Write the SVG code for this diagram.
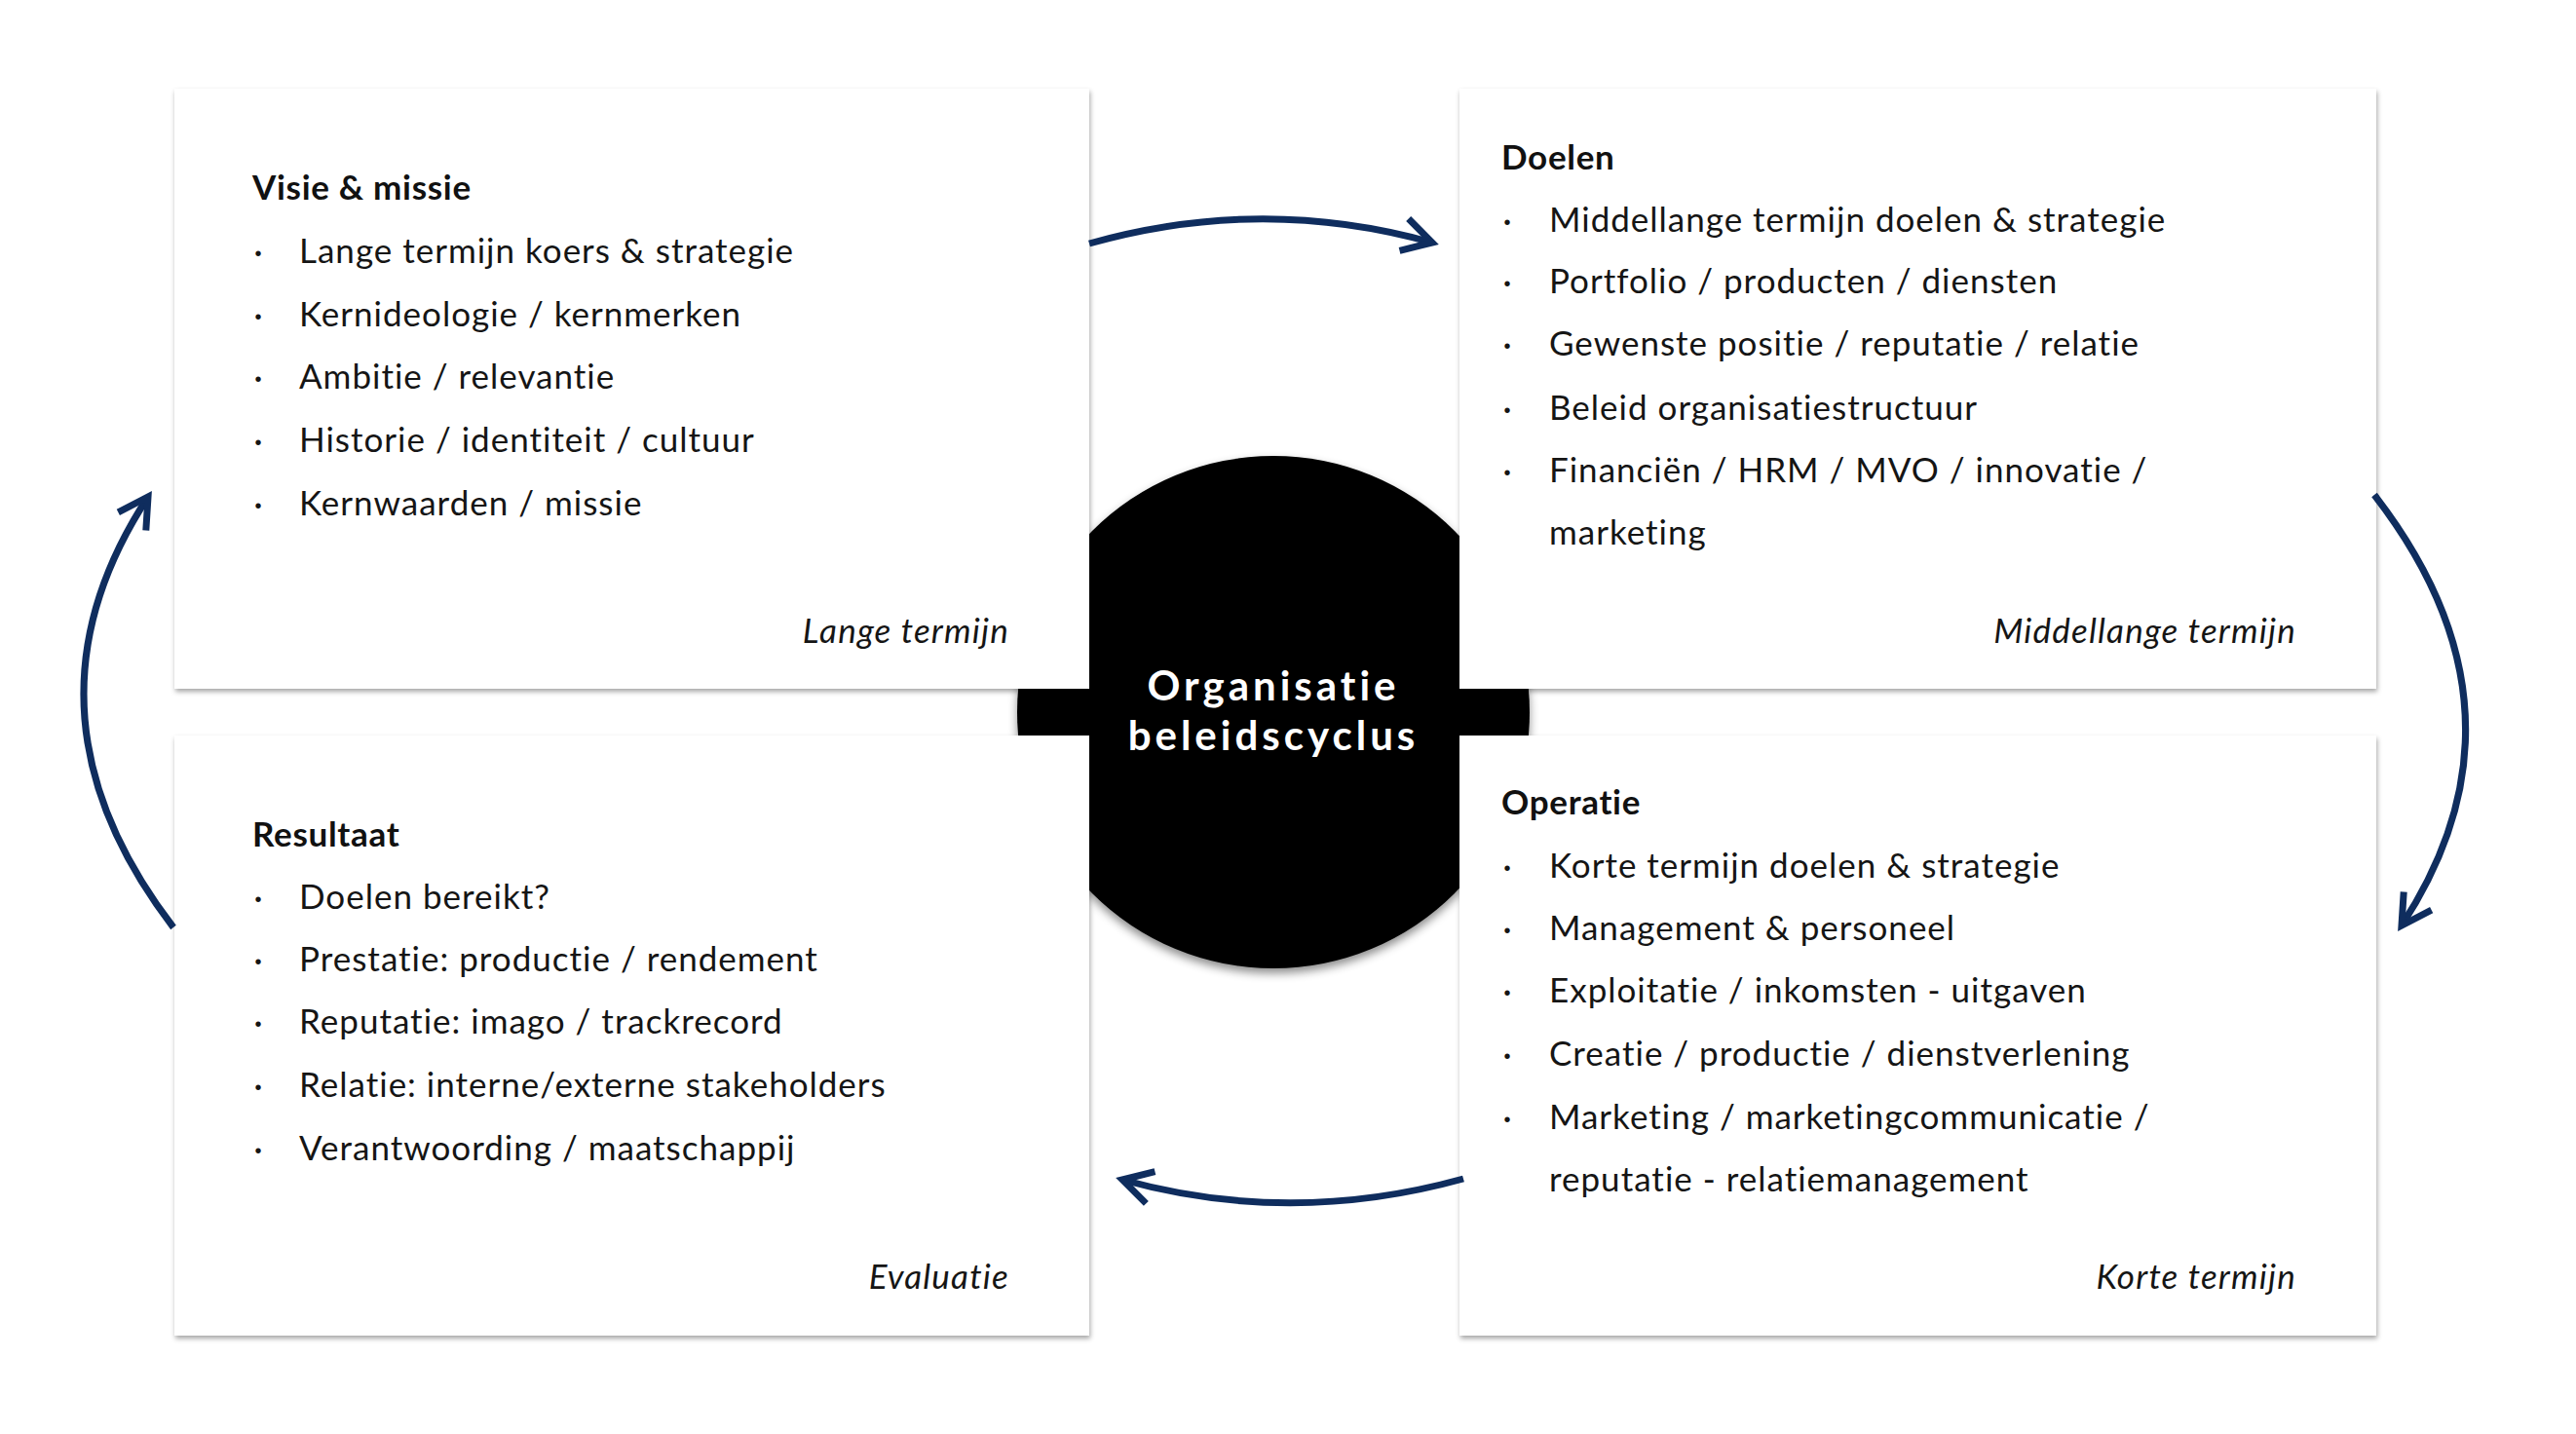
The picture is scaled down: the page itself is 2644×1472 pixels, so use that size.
<svg xmlns="http://www.w3.org/2000/svg" width="2644" height="1472" viewBox="0 0 2644 1472">
<defs>
<style>
.box{fill:#ffffff;filter:url(#boxShadow);}
.h{font-family:Lato,"Open Sans","Liberation Sans",sans-serif;font-weight:700;font-size:35px;fill:#111111;letter-spacing:0.7px;}
.t{font-family:Lato,"Open Sans","Liberation Sans",sans-serif;font-weight:400;font-size:35px;fill:#151515;letter-spacing:1px;}
.b{font-family:"Liberation Sans",sans-serif;font-size:20px;fill:#151515;text-anchor:middle;}
.i{font-family:Lato,"Open Sans","Liberation Sans",sans-serif;font-weight:400;font-style:italic;font-size:35px;fill:#151515;text-anchor:end;letter-spacing:1.2px;}
.c{font-family:Lato,"Open Sans","Liberation Sans",sans-serif;font-weight:700;font-size:42px;fill:#ffffff;text-anchor:middle;letter-spacing:4px;}
.arr{fill:none;stroke:#0f2d5e;stroke-width:7;marker-end:url(#chev);}
</style>
<filter id="boxShadow" x="-5%" y="-5%" width="110%" height="112%">
<feDropShadow dx="1" dy="3" stdDeviation="2.5" flood-color="#000000" flood-opacity="0.35"/>
</filter>
<filter id="circShadow" x="-10%" y="-10%" width="120%" height="125%">
<feDropShadow dx="0" dy="5" stdDeviation="5" flood-color="#000000" flood-opacity="0.45"/>
</filter>
<marker id="chev" markerUnits="userSpaceOnUse" markerWidth="60" markerHeight="60" refX="0" refY="0" orient="auto" overflow="visible" viewBox="-40 -30 60 60">
<path d="M-30,-17 L0,0 L-30,17" fill="none" stroke="#0f2d5e" stroke-width="7" stroke-linejoin="miter"/>
</marker>
</defs>
<rect width="2644" height="1472" fill="#ffffff"/>

<g id="center">
<circle cx="1307" cy="731" r="263" fill="#000000" filter="url(#circShadow)"/>
</g>

<g id="node-visie">
<rect class="box" x="179" y="91" width="939" height="616"/>
<text class="h" x="259" y="205">Visie &amp; missie</text>
<text class="b" x="265" y="267">•</text><text class="t" x="307" y="270">Lange termijn koers &amp; strategie</text>
<text class="b" x="265" y="332">•</text><text class="t" x="307" y="335">Kernideologie / kernmerken</text>
<text class="b" x="265" y="396">•</text><text class="t" x="307" y="399">Ambitie / relevantie</text>
<text class="b" x="265" y="461">•</text><text class="t" x="307" y="464">Historie / identiteit / cultuur</text>
<text class="b" x="265" y="526">•</text><text class="t" x="307" y="529">Kernwaarden / missie</text>
<text class="i" x="1036" y="660">Lange termijn</text>
</g>

<g id="node-doelen">
<rect class="box" x="1498" y="91" width="941" height="616"/>
<text class="h" x="1541" y="174">Doelen</text>
<text class="b" x="1547" y="235">•</text><text class="t" x="1590" y="238">Middellange termijn doelen &amp; strategie</text>
<text class="b" x="1547" y="298">•</text><text class="t" x="1590" y="301">Portfolio / producten / diensten</text>
<text class="b" x="1547" y="362">•</text><text class="t" x="1590" y="365">Gewenste positie / reputatie / relatie</text>
<text class="b" x="1547" y="428">•</text><text class="t" x="1590" y="431">Beleid organisatiestructuur</text>
<text class="b" x="1547" y="492">•</text><text class="t" x="1590" y="495">Financiën / HRM / MVO / innovatie /</text>
<text class="t" x="1590" y="559">marketing</text>
<text class="i" x="2357" y="660">Middellange termijn</text>
</g>

<g id="node-resultaat">
<rect class="box" x="179" y="755" width="939" height="616"/>
<text class="h" x="259" y="869">Resultaat</text>
<text class="b" x="265" y="930">•</text><text class="t" x="307" y="933">Doelen bereikt?</text>
<text class="b" x="265" y="994">•</text><text class="t" x="307" y="997">Prestatie: productie / rendement</text>
<text class="b" x="265" y="1058">•</text><text class="t" x="307" y="1061">Reputatie: imago / trackrecord</text>
<text class="b" x="265" y="1123">•</text><text class="t" x="307" y="1126">Relatie: interne/externe stakeholders</text>
<text class="b" x="265" y="1188">•</text><text class="t" x="307" y="1191">Verantwoording / maatschappij</text>
<text class="i" x="1036" y="1323">Evaluatie</text>
</g>

<g id="node-operatie">
<rect class="box" x="1498" y="755" width="941" height="616"/>
<text class="h" x="1541" y="836">Operatie</text>
<text class="b" x="1547" y="898">•</text><text class="t" x="1590" y="901">Korte termijn doelen &amp; strategie</text>
<text class="b" x="1547" y="962">•</text><text class="t" x="1590" y="965">Management &amp; personeel</text>
<text class="b" x="1547" y="1026">•</text><text class="t" x="1590" y="1029">Exploitatie / inkomsten - uitgaven</text>
<text class="b" x="1547" y="1091">•</text><text class="t" x="1590" y="1094">Creatie / productie / dienstverlening</text>
<text class="b" x="1547" y="1156">•</text><text class="t" x="1590" y="1159">Marketing / marketingcommunicatie /</text>
<text class="t" x="1590" y="1223">reputatie - relatiemanagement</text>
<text class="i" x="2357" y="1323">Korte termijn</text>
</g>

<g id="center-label">
<text class="c" x="1307" y="719">Organisatie</text>
<text class="c" x="1307" y="770">beleidscyclus</text>
</g>

<g id="connectors">
<path class="arr" d="M1118,250 Q1295,200 1470,249"/>
<path class="arr" d="M2437,508 Q2609,730 2465,950"/>
<path class="arr" d="M1502,1210 Q1325,1259 1152,1211"/>
<path class="arr" d="M178,952 Q8,730 152,510"/>
</g>
</svg>
